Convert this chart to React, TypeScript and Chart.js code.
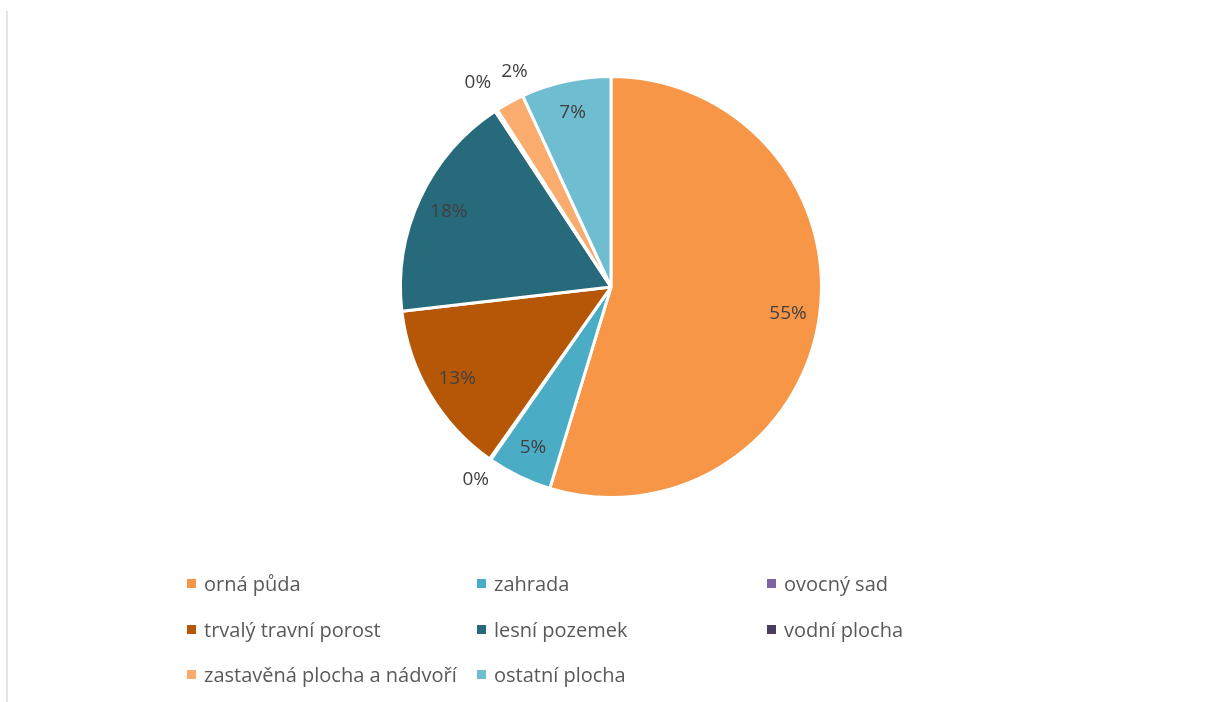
import React, { useEffect, useRef } from "react";
import { Chart, registerables } from "chart.js";

Chart.register(...registerables);

const categories = [
  "orná půda",
  "zahrada",
  "ovocný sad",
  "trvalý travní porost",
  "lesní pozemek",
  "vodní plocha",
  "zastavěná plocha a nádvoří",
  "ostatní plocha",
];
const values = [54.8, 5.0, 0.1, 13.4, 17.6, 0.2, 2.2, 6.9];
const colors = [
  "#F79646",
  "#4BACC6",
  "#8064A2",
  "#B65708",
  "#276A7C",
  "#4D3B62",
  "#F9AC6E",
  "#6FBDD1",
];

const FONT = "'Open Sans', 'DejaVu Sans', sans-serif";

const labelPlugin = {
  id: "pctLabels",
  afterDatasetsDraw(chart: any) {
    const ctx = chart.ctx;
    const meta = chart.getDatasetMeta(0);
    const data = chart.data.datasets[0].data as number[];
    const total = data.reduce((a, b) => a + b, 0);
    ctx.save();
    ctx.beginPath();
    ctx.rect(0, 62, chart.width, chart.height - 62);
    ctx.clip();
    ctx.font = `19px ${FONT}`;
    ctx.fillStyle = "#404040";
    ctx.textAlign = "center";
    ctx.textBaseline = "middle";
    const order = data.map((_, i) => i).sort((a, b) => data[b] - data[a]);
    const placed: { x: number; y: number; w: number; h: number }[] = [];
    const pad = 10;
    order.forEach((i) => {
      const arc = meta.data[i] as any;
      const p = arc.getProps(["x", "y", "startAngle", "endAngle", "outerRadius"], true);
      const frac = data[i] / total;
      const small = frac < 0.03;
      const mid = (p.startAngle + p.endAngle) / 2 + (small && data[i] >= 1 ? 0.08 : 0);
      const text = Math.round(frac * 100) + "%";
      const w = ctx.measureText(text).width;
      const h = 20;
      let rf = small ? 1.12 : 0.85;
      let x = 0, y = 0;
      for (let k = 0; k < 12; k++) {
        x = p.x + Math.cos(mid) * p.outerRadius * rf;
        y = p.y + Math.sin(mid) * p.outerRadius * rf;
        const hit = placed.some(
          (b) =>
            Math.abs(b.x - x) < (b.w + w) / 2 + pad && Math.abs(b.y - y) < (b.h + h) / 2 + pad
        );
        if (!hit) break;
        rf += 0.04;
      }
      placed.push({ x, y, w, h });
      ctx.fillText(text, x, y);
    });
    ctx.restore();
  },
};

export default function App() {
  const ref = useRef<HTMLCanvasElement>(null);
  useEffect(() => {
    const chart = new Chart(ref.current!, {
      type: "pie",
      data: {
        labels: categories,
        datasets: [
          {
            data: values,
            backgroundColor: colors,
            borderColor: "#FFFFFF",
            borderWidth: 3,
          },
        ],
      },
      options: {
        responsive: false,
        animation: false,
        layout: { padding: { top: 75, bottom: 203, left: 17, right: 0 } },
        plugins: {
          legend: { display: false },
          tooltip: { enabled: false },
        },
      },
      plugins: [labelPlugin],
    });
    return () => chart.destroy();
  }, []);

  return (
    <div
      style={{
        position: "fixed",
        left: 0,
        top: 0,
        width: 1205,
        height: 702,
        background: "#FFFFFF",
        overflow: "hidden",
      }}
    >
      <div
        style={{
          position: "absolute",
          left: 6,
          top: 11,
          width: 2,
          height: 691,
          background: "#E3E3E3",
        }}
      />
      <canvas ref={ref} width={1205} height={702} style={{ position: "absolute", left: 0, top: 0 }} />
      <div
        style={{
          position: "absolute",
          left: 187,
          top: 561,
          display: "grid",
          gridTemplateColumns: "290px 290px 290px",
          gridAutoRows: "45.5px",
          fontFamily: FONT,
          fontSize: 20,
          color: "#595959",
        }}
      >
        {categories.map((c, i) => (
          <div key={c} style={{ display: "flex", alignItems: "center", whiteSpace: "nowrap" }}>
            <span
              style={{
                display: "inline-block",
                width: 9,
                height: 9,
                background: colors[i],
                marginRight: 8,
              }}
            />
            <span>{c}</span>
          </div>
        ))}
      </div>
    </div>
  );
}
